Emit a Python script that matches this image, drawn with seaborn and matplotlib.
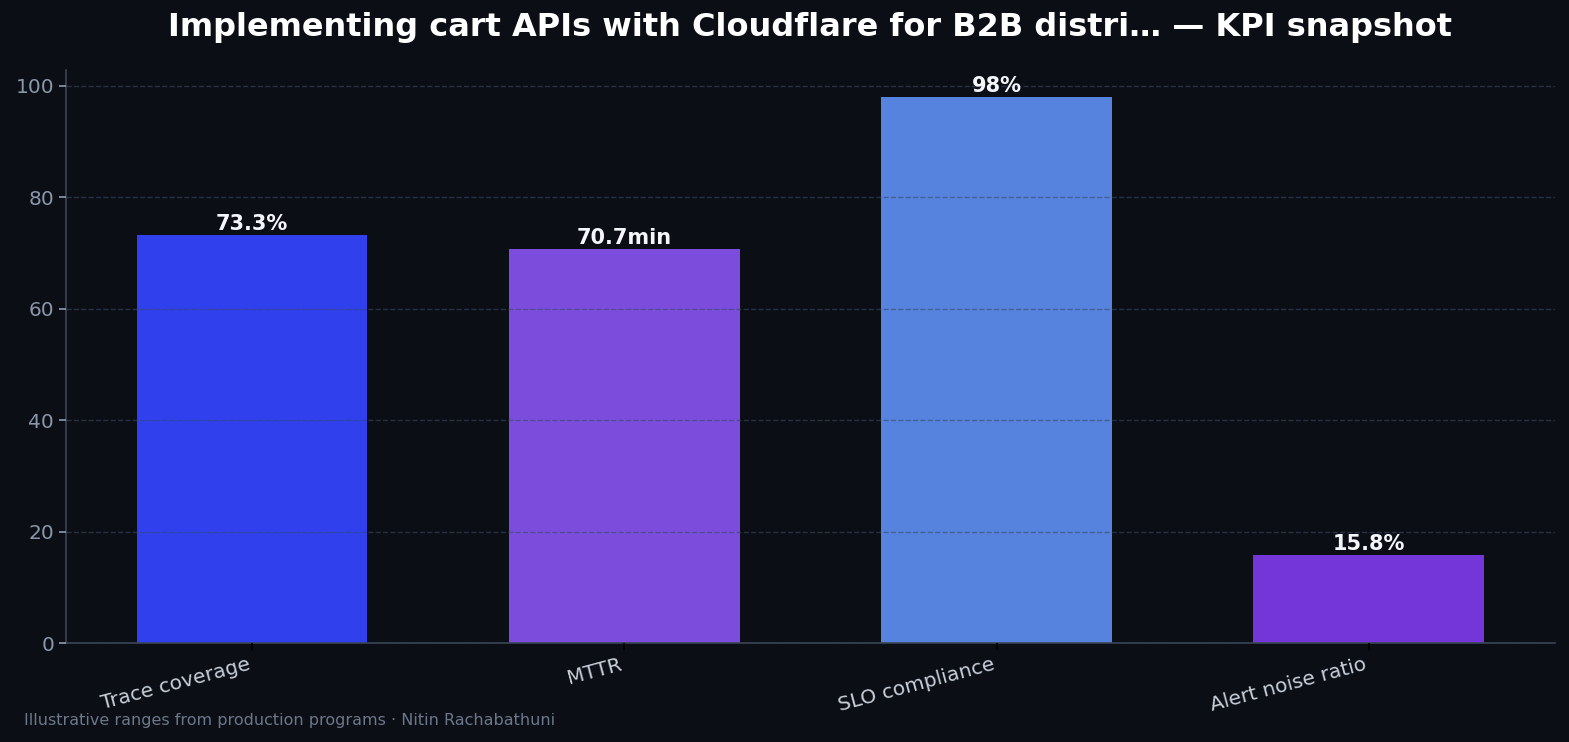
import matplotlib
matplotlib.use("Agg")
import matplotlib.pyplot as plt
import seaborn as sns
import pandas as pd

categories = ["Trace coverage", "MTTR", "SLO compliance", "Alert noise ratio"]
values = [73.3, 70.7, 98, 15.8]
labels = ["73.3%", "70.7min", "98%", "15.8%"]
colors = ["#2f40ec", "#7c4ddc", "#5683dd", "#7436d8"]

bg = "#0b0e14"
sns.set_theme(style="dark")
plt.rcParams['font.family'] = ['DejaVu Sans']

df = pd.DataFrame({"kpi": categories, "value": values})

fig, ax = plt.subplots(figsize=(15.69, 7.42), dpi=100)
fig.patch.set_facecolor(bg)
ax.set_facecolor(bg)
plt.subplots_adjust(left=0.042, right=0.991, top=0.906, bottom=0.133)

sns.barplot(data=df, x="kpi", y="value", hue="kpi", palette=colors, width=0.62,
            legend=False, ax=ax, saturation=1, linewidth=0, edgecolor="none")

for bar, lab in zip(ax.patches, labels):
    ax.text(bar.get_x() + bar.get_width() / 2, bar.get_height() + 0.2, lab,
            ha="center", va="bottom", color="#f4f6fa", fontsize=15, fontweight="bold")

ax.set_ylim(0, max(values) * 1.05)
ax.set_xlabel("")
ax.set_ylabel("")
ax.grid(axis="y", color="#3a4a66", linestyle="--", linewidth=1, alpha=0.6)
ax.set_axisbelow(False)
for s in ["top", "right"]:
    ax.spines[s].set_visible(False)
for s in ["left", "bottom"]:
    ax.spines[s].set_color("#3a4556")
    ax.spines[s].set_linewidth(1.2)
ax.tick_params(axis="y", colors="#8a96aa", labelsize=14.5, length=5, left=True)
ax.tick_params(axis="x", colors="#c8d0dc", labelsize=14.5, length=5, bottom=True)
ax.tick_params(axis="x", color="#000000")
plt.setp(ax.get_xticklabels(), rotation=15, ha="right")

ax.set_title("Implementing cart APIs with Cloudflare for B2B distri\u2026 \u2014 KPI snapshot",
             color="#ffffff", fontsize=23, fontweight="bold", pad=24)
fig.text(0.015, 0.023, "Illustrative ranges from production programs \u00b7 Nitin Rachabathuni",
         color="#6b778a", fontsize=11.5)

plt.savefig("out.png", dpi=100, facecolor=bg)
plt.close()
